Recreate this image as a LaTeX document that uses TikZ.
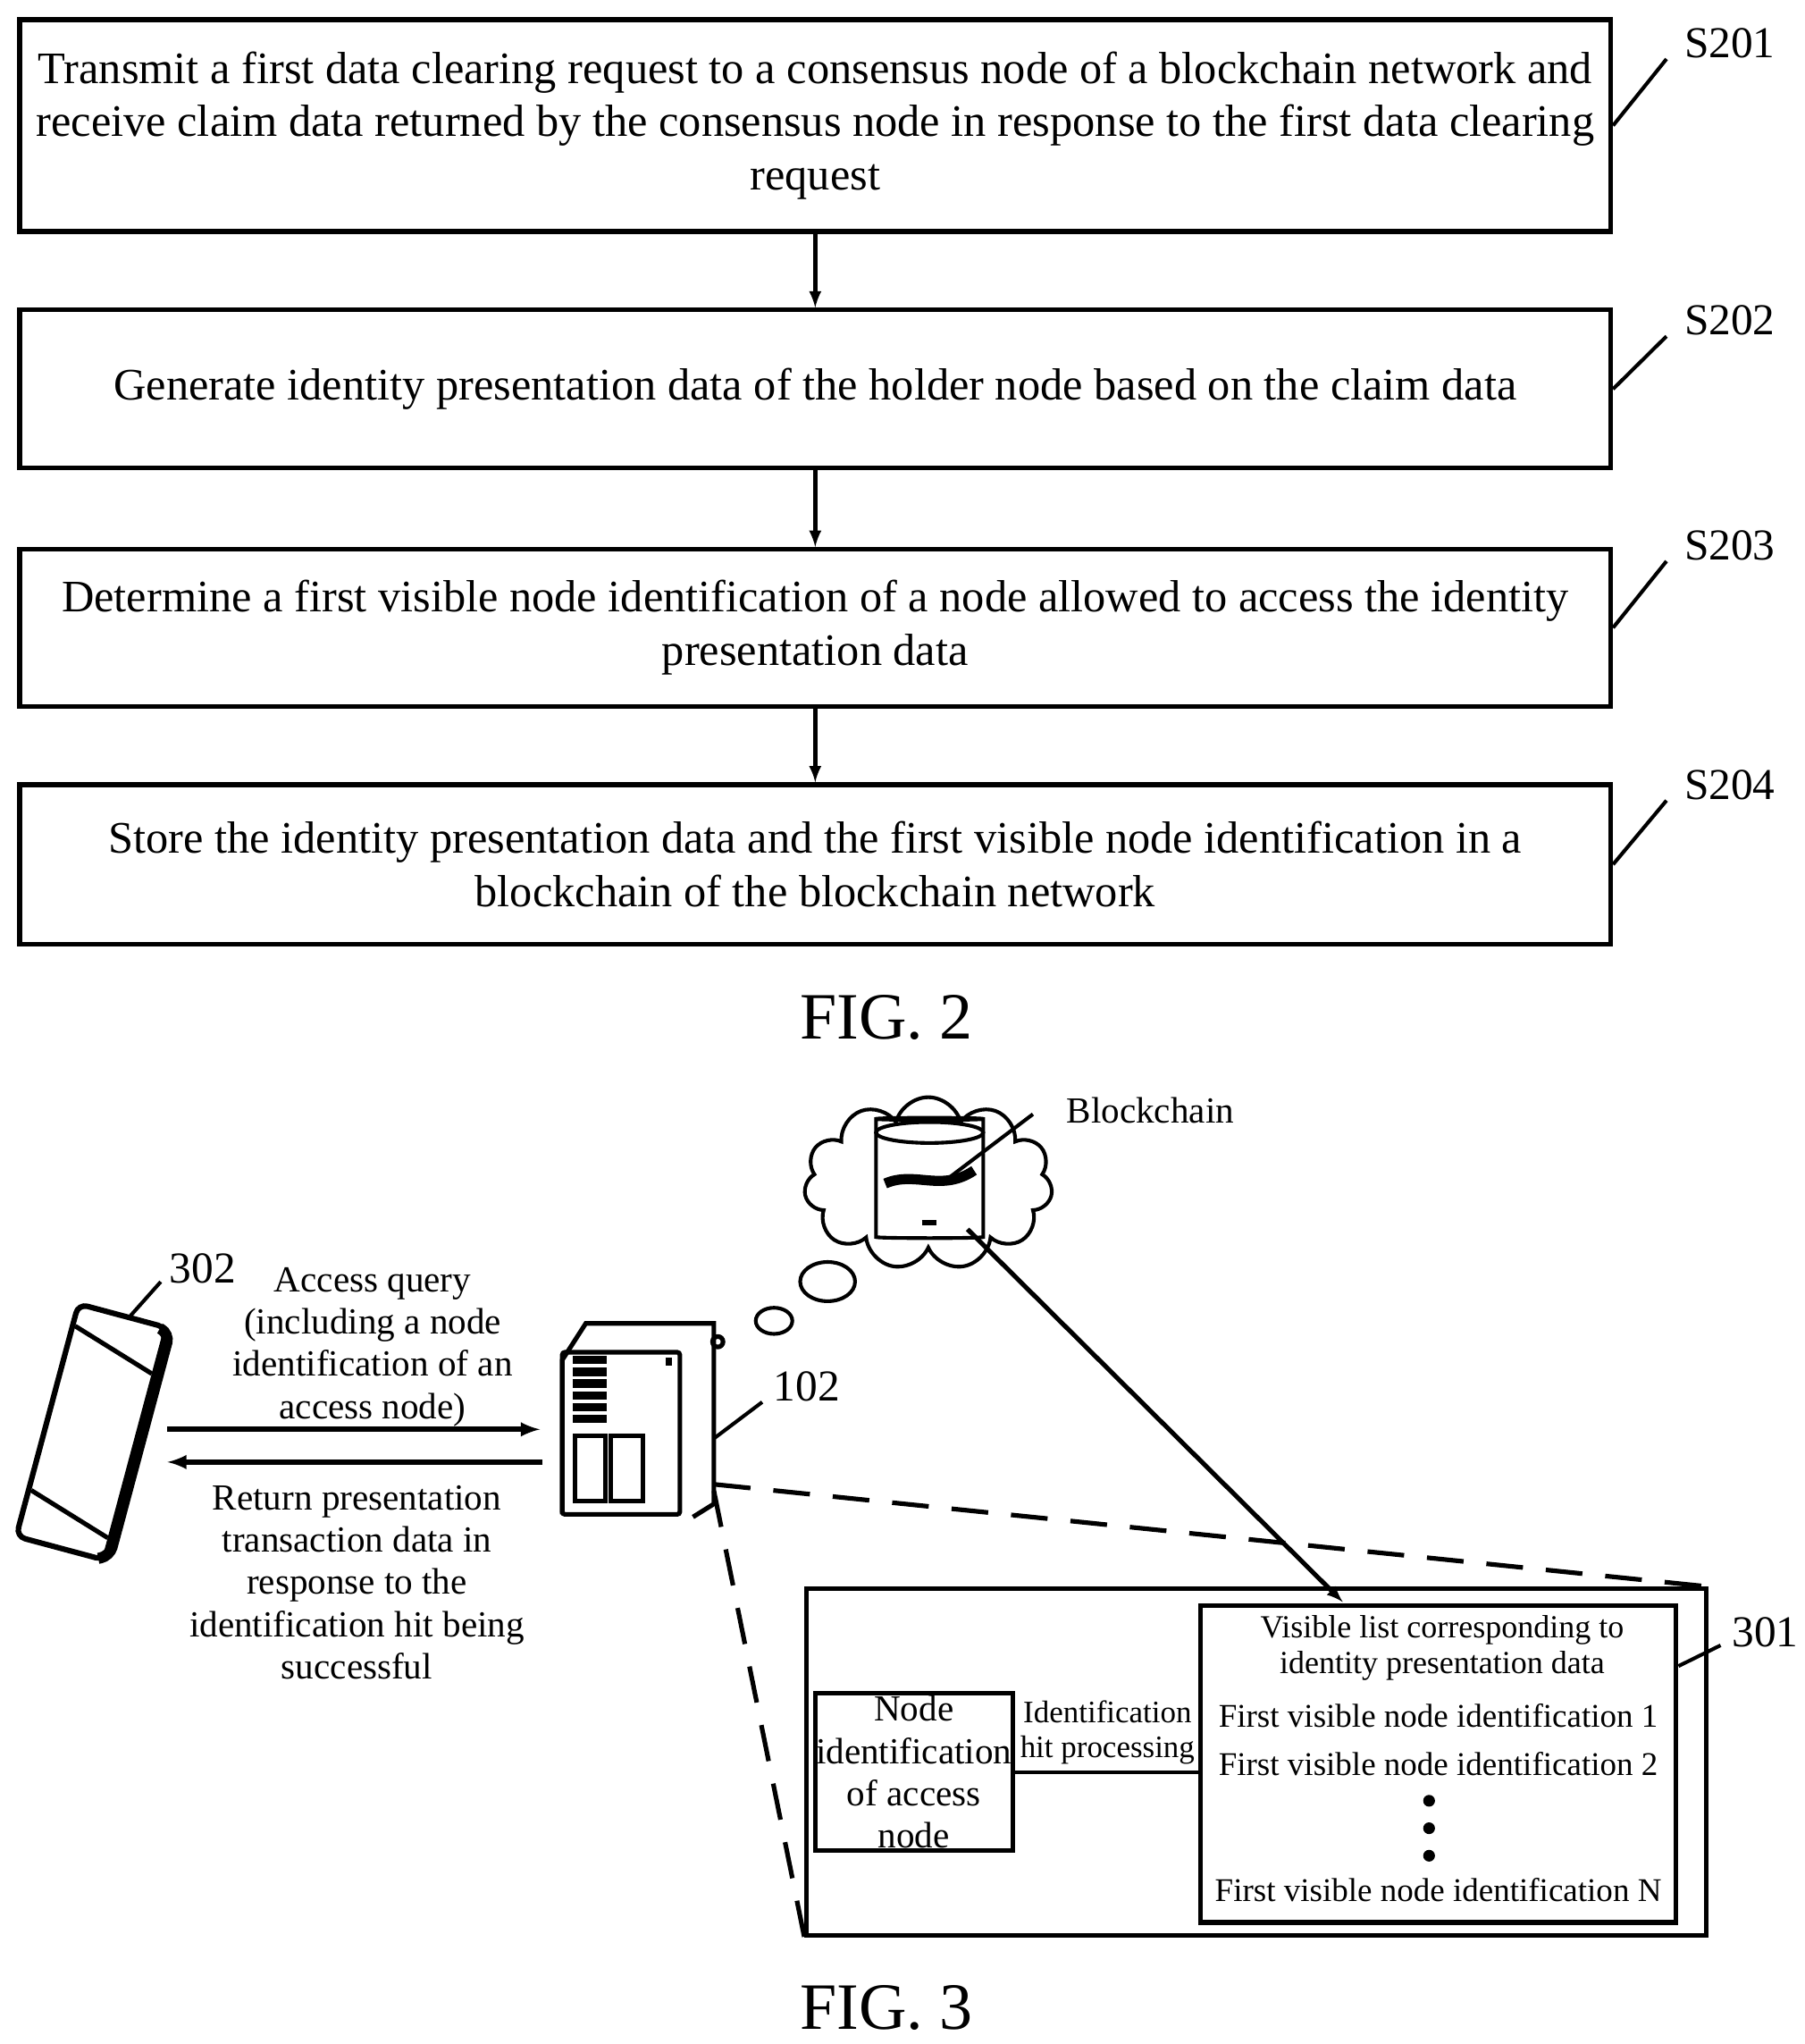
\documentclass[tikz,border=0pt]{standalone}
\usepackage{fontspec}
\setmainfont{Liberation Serif}
\usetikzlibrary{shapes,shapes.geometric,shapes.symbols,arrows,calc,positioning}
\begin{document}
\begin{tikzpicture}[>=latex,x=0.05cm,y=-0.05cm,line width=4pt,
  stepbox/.style={draw,line width=5pt,minimum width=60.85cm,align=center,font=\fontsize{49}{58}\selectfont},
  lbl/.style={font=\fontsize{48}{56}\selectfont},
  sm/.style={align=center,font=\fontsize{40}{46}\selectfont},
  fig/.style={font=\fontsize{72}{80}\selectfont}]
\useasboundingbox (0,0) rectangle (1380,1563);

% FIG. 2
\node [stepbox, minimum height=8.1cm] (s1) at (623.5,96) {Transmit a first data clearing request to a consensus node of a blockchain network and\\receive claim data returned by the consensus node in response to the first data clearing\\request};
\node [stepbox, minimum height=6.05cm] (s2) at (623.5,297.5) {Generate identity presentation data of the holder node based on the claim data};
\node [stepbox, minimum height=6cm] (s3) at (623.5,480) {Determine a first visible node identification of a node allowed to access the identity\\presentation data};
\node [stepbox, minimum height=6.1cm] (s4) at (623.5,661) {Store the identity presentation data and the first visible node identification in a\\blockchain of the blockchain network};
\foreach \a/\b in {s1/s2,s2/s3,s3/s4}
  \draw [->,line width=5pt] (\a) -- (\b);
\foreach \s/\y in {1/33,2/245,3/417,4/600} {
  \node [lbl] (t\s) at (1323,\y) {S20\s};
  \draw (s\s.east) -- ($(t\s.south west)+(-10,-3)$);
}
\node [fig] (f2) at (678,778) {FIG. 2};

% FIG. 3
\node [cloud, draw, cloud puffs=11, minimum width=9.5cm, minimum height=6.6cm] (cl) at (710,905) {};
\node [cylinder, draw, shape border rotate=90, aspect=0.35, minimum width=4.1cm, minimum height=4.6cm] (db) at (711,902) {};
\draw (711,866) ellipse (41 and 8);
\draw [line width=11pt] (677,905) .. controls (700,895) and (720,912) .. (745,895);
\draw [line width=6pt] (705,935) -- (716,935);
\node [sm, anchor=west] (bc) at (812,849) {Blockchain};
\draw (720,905) -- (790,852);
\draw (633,980) ellipse (21 and 15);
\draw (592,1010) ellipse (14 and 10);

% server
\draw [line width=5pt] (430,1158) -- (430,1040) -- (448,1012) -- (546,1012) -- (546,1150) -- (530,1160);
\draw [line width=5pt, rounded corners=3pt] (430,1034) rectangle (520,1158);
\draw [line width=5pt] (549,1026) circle (4);
\foreach \y in {1040,1049,1058,1067,1076,1085}
  \draw [line width=9pt] (438,\y) -- (464,\y);
\draw [line width=5pt] (440,1098) rectangle (463,1148);
\draw [line width=5pt] (467,1098) rectangle (492,1148);
\fill (509,1038) rectangle (514,1044);
\node [coordinate] (srv) at (546,1100) {};
\node [lbl] (n102) at (617,1060) {102};
\draw (srv) -- ($(n102.south west)+(-5,-3)$);

% phone
\begin{scope}[shift={(70,1095)},rotate=-15]
\draw [line width=6pt, rounded corners=10pt] (-35,-92) rectangle (35,92);
\draw [line width=12pt, rounded corners=10pt] (30,-90) -- (38,-88) -- (38,88) -- (30,92);
\draw [line width=5pt] (-33,-75) -- (33,-55);
\draw [line width=5pt] (-33,55) -- (33,75);
\node [coordinate] (ph) at (5,-92) {};
\end{scope}
\node [lbl] (n302) at (155,970) {302};
\draw (ph) -- ($(n302.south west)+(-3,-5)$);

\node [coordinate] (a1) at (128,1093) {};
\node [coordinate] (a2) at (413,1093) {};
\node [coordinate] (b1) at (415,1118) {};
\node [coordinate] (b2) at (128,1118) {};
\draw [->,line width=6pt] (a1) -- (a2);
\draw [->,line width=6pt] (b1) -- (b2);
\node [sm] (q) at (285,1030) {Access query\\(including a node\\identification of an\\access node)};
\node [sm] (r) at (273,1210) {Return presentation\\transaction data in\\response to the\\identification hit being\\successful};

% box 301
\node [draw, line width=5pt, minimum width=34.4cm, minimum height=13.25cm] (box) at (961,1347.5) {};
\node [draw, line width=5pt, minimum width=18.2cm, minimum height=12.1cm] (list) at (1100,1349) {};
\node [draw, line width=5pt, sm, minimum width=7.2cm, minimum height=6cm, inner sep=1pt] (nid) at (699,1355) {Node\\identification\\of access\\node};
\draw (nid) -- (list.west |- nid);
\node [sm, font=\fontsize{34}{38}\selectfont] (hit) at (847,1325) {Identification\\hit processing};
\node [sm, font=\fontsize{35}{39}\selectfont] (vl) at (1103,1260) {Visible list corresponding to\\identity presentation data};
\node [sm, font=\fontsize{36}{40}\selectfont] (i1) at (1100,1312) {First visible node identification 1};
\node [sm, font=\fontsize{36}{40}\selectfont] (i2) at (1100,1349) {First visible node identification 2};
\foreach \y in {1377,1398,1419}
  \fill (1093,\y) circle (4.5);
\node [sm, font=\fontsize{36}{40}\selectfont] (iN) at (1100,1445) {First visible node identification N};
\node [lbl] (n301) at (1350,1248) {301};
\draw ($(list.east)+(0,-75)$) -- ($(n301.south west)+(-5,-5)$);
\draw [->,line width=5pt] (740,940) -- (1027,1225);
\draw [dashed, dash pattern=on 40pt off 25pt, line width=5pt] (546,1135) -- (box.north east);
\draw [dashed, dash pattern=on 40pt off 25pt, line width=5pt] (546,1140) -- (box.south west);
\node [fig] (f3) at (678,1535) {FIG. 3};
\end{tikzpicture}
\end{document}
